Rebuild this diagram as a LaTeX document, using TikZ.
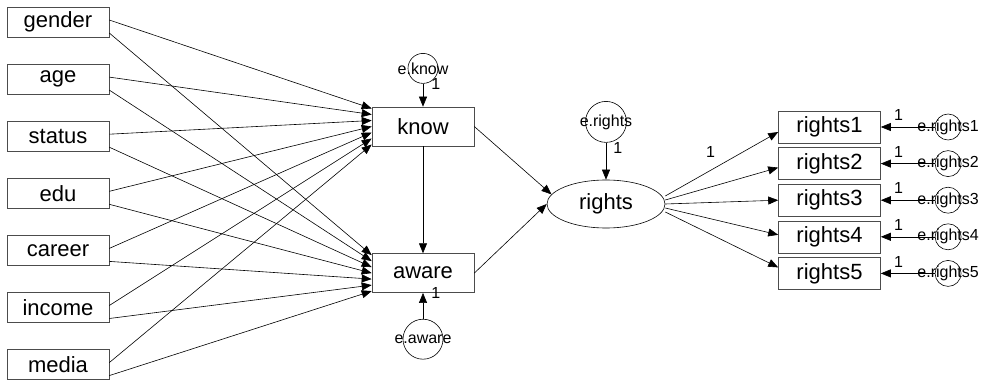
\documentclass[tikz,border=0pt]{standalone}
\usepackage{fontspec}
\setmainfont{Liberation Sans}
\usepackage{tikz}
\usetikzlibrary{shapes,arrows.meta,positioning}

\begin{document}
\begin{tikzpicture}[x=1pt, y=-1pt, node distance=26.5pt, line width=0.6pt,
  >={Triangle[length=10pt,width=8pt]},
  var/.style={draw=black!70, minimum width=102pt, minimum height=30pt, inner sep=1pt, font=\fontsize{22}{24}\selectfont},
  lat/.style={draw, ellipse, minimum width=118pt, minimum height=48pt, font=\fontsize{22}{24}\selectfont},
  err/.style={draw, circle, inner sep=0pt},
  one/.style={inner sep=1pt, font=\fontsize{16}{18}\selectfont},
  every label/.style={inner sep=0pt, font=\fontsize{16}{18}\selectfont}]
  \useasboundingbox (0,0) rectangle (983,385);

  \node[var] (gender) at (58,22) {gender};
  \node[var, below=of gender] (age) {age};
  \node[var, below=of age] (status) {status};
  \node[var, below=of status] (edu) {edu};
  \node[var, below=of edu] (career) {career};
  \node[var, below=of career] (income) {income};
  \node[var, below=of income] (media) {media};

  \node[var, minimum height=39pt] (know) at (423,126.5) {know};
  \node[var, minimum height=39pt, below=107pt of know] (aware) {aware};
  \node[err, minimum size=30pt, above=23pt of know, label=center:e.know] (eknow) {};
  \node[err, minimum size=40pt, below=26pt of aware, label=center:e.aware] (eaware) {};

  \node[lat] (rights) at (606,204) {rights};
  \node[err, minimum size=41pt, above=37pt of rights, label=center:e.rights] (erights) {};

  \node[var, minimum height=32pt] (r1) at (829.5,127) {rights1};
  \node[var, minimum height=32pt, below=4pt of r1] (r2) {rights2};
  \node[var, minimum height=32pt, below=4pt of r2] (r3) {rights3};
  \node[var, minimum height=32pt, below=4pt of r3] (r4) {rights4};
  \node[var, minimum height=32pt, below=4pt of r4] (r5) {rights5};
  \node[err, minimum size=26pt, right=54pt of r1, label=center:e.rights1] (e1) {};
  \node[err, minimum size=26pt, right=54pt of r2, label=center:e.rights2] (e2) {};
  \node[err, minimum size=26pt, right=54pt of r3, label=center:e.rights3] (e3) {};
  \node[err, minimum size=26pt, right=54pt of r4, label=center:e.rights4] (e4) {};
  \node[err, minimum size=26pt, right=54pt of r5, label=center:e.rights5] (e5) {};

  % background variables
  \draw[->] ([yshift=2pt]gender.east) -- ([yshift=18pt]know.west);
  \draw[->] ([yshift=-11pt]gender.east) -- ([yshift=18pt]aware.west);
  \draw[->] ([yshift=2pt]age.east) -- ([yshift=12pt]know.west);
  \draw[->] ([yshift=-11pt]age.east) -- ([yshift=12pt]aware.west);
  \draw[->] ([yshift=2pt]status.east) -- ([yshift=6pt]know.west);
  \draw[->] ([yshift=-11pt]status.east) -- ([yshift=6pt]aware.west);
  \draw[->] ([yshift=2pt]edu.east) -- (know.west);
  \draw[->] ([yshift=-11pt]edu.east) -- (aware.west);
  \draw[->] ([yshift=2pt]career.east) -- ([yshift=-6pt]know.west);
  \draw[->] ([yshift=-11pt]career.east) -- ([yshift=-6pt]aware.west);
  \draw[->] ([yshift=2pt]income.east) -- ([yshift=-12pt]know.west);
  \draw[->] ([yshift=-11pt]income.east) -- ([yshift=-12pt]aware.west);
  \draw[->] ([yshift=2pt]media.east) -- ([yshift=-18pt]know.west);
  \draw[->] ([yshift=-11pt]media.east) -- ([yshift=-18pt]aware.west);

  \draw[->] (know) -- (aware);
  \draw[->] (know.east) -- (rights.170);
  \draw[->] (aware.east) -- (rights.west);
  \draw[->] (eknow) -- node[one, pos=0, right=7pt] {1} (know);
  \draw[->] (eaware) -- node[one, pos=1, right=7pt] {1} (aware);
  \draw[->] (erights) -- node[one, pos=0.15, right=6pt] {1} (rights);

  % indicators
  \draw[->] ([yshift=8pt]rights.east) -- node[one, pos=0.4, above=12pt] {1} ([yshift=-5pt]r1.west);
  \draw[->] ([yshift=4pt]rights.east) -- ([yshift=-4pt]r2.west);
  \draw[->] (rights.east) -- (r3.west);
  \draw[->] ([yshift=-4pt]rights.east) -- ([yshift=2pt]r4.west);
  \draw[->] ([yshift=-8pt]rights.east) -- ([yshift=6pt]r5.west);
  \draw[->] (e1) -- node[one, pos=0.67, above=5pt] {1} (r1);
  \draw[->] (e2) -- node[one, pos=0.67, above=5pt] {1} (r2);
  \draw[->] (e3) -- node[one, pos=0.67, above=5pt] {1} (r3);
  \draw[->] (e4) -- node[one, pos=0.67, above=5pt] {1} (r4);
  \draw[->] (e5) -- node[one, pos=0.67, above=5pt] {1} (r5);
\end{tikzpicture}
\end{document}
